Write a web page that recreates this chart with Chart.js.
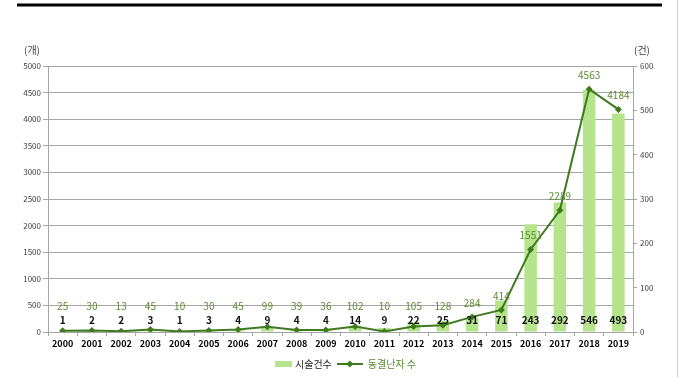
<!DOCTYPE html>
<html><head><meta charset="utf-8">
<script src="https://cdn.jsdelivr.net/npm/chart.js@4"></script>
<style>html,body{margin:0;padding:0;background:#fff;overflow:hidden}#wrap{position:relative;width:680px;height:377px}</style>
</head><body><div id="wrap"><canvas id="c" width="680" height="377"></canvas></div>
<script>
const years = ['2000','2001','2002','2003','2004','2005','2006','2007','2008','2009','2010','2011','2012','2013','2014','2015','2016','2017','2018','2019'];
// 시술건수 (bars, right axis, 건)
const procedures = [1,2,2,3,1,3,4,9,4,4,14,9,22,25,31,71,243,292,546,493];
// 동결난자 수 (line, left axis, 개)
const frozenEggs = [25,30,13,45,10,30,45,99,39,36,102,10,105,128,284,414,1551,2289,4563,4184];
const seriesNames = ['시술건수','동결난자 수'];
const leftUnit = '(개)';
const rightUnit = '(건)';
const leftMax = 5000, leftStep = 500;
const rightMax = 600, rightStep = 100;

const FAM = "'Noto Sans CJK KR','Noto Sans',sans-serif";
const BAR = '#b5e48c';
const LINE = '#3f7a1f';
const LBL_GREEN = '#5b8a33';
const AXIS = '#a6a6a6';

function barIcon(){const c=document.createElement('canvas');c.width=32;c.height=6;const x=c.getContext('2d');x.fillStyle=BAR;x.fillRect(14,0,17,6);return c;}
function lineIcon(){const c=document.createElement('canvas');c.width=26;c.height=8;const x=c.getContext('2d');x.strokeStyle=LINE;x.lineWidth=2;x.beginPath();x.moveTo(0,4);x.lineTo(26,4);x.stroke();x.fillStyle=LINE;x.beginPath();x.moveTo(13,0.5);x.lineTo(16.5,4);x.lineTo(13,7.5);x.lineTo(9.5,4);x.closePath();x.fill();return c;}

const decor = {
  id:'decor',
  beforeLayout(chart){
    const lg=chart.legend;
    if(lg && !lg._patched){const f=lg.fit;lg.fit=function(){f.call(this);this.height=23;};lg._patched=true;}
  },
  beforeDraw(chart){
    const ctx=chart.ctx, a=chart.chartArea;
    ctx.save();
    ctx.fillStyle='#fff';ctx.fillRect(0,0,chart.width,chart.height);
    ctx.strokeStyle='#000';ctx.lineWidth=3;ctx.beginPath();ctx.moveTo(17,5);ctx.lineTo(662,5);ctx.stroke();
    ctx.strokeStyle='#cfcfcf';ctx.lineWidth=1;ctx.beginPath();ctx.moveTo(677.5,0);ctx.lineTo(677.5,chart.height);ctx.stroke();
    ctx.fillStyle='#404040';ctx.font="10px "+FAM;ctx.textBaseline='middle';
    ctx.textAlign='left';ctx.fillText(leftUnit,24,a.top-16);
    ctx.fillText(rightUnit,634,a.top-16);
    ctx.restore();
  },
  afterDatasetsDraw(chart){
    const ctx=chart.ctx, a=chart.chartArea;
    const bm=chart.getDatasetMeta(0), lm=chart.getDatasetMeta(1);
    ctx.save();ctx.textAlign='center';ctx.textBaseline='middle';
    ctx.font="bold 10px "+FAM;ctx.fillStyle='#111';
    bm.data.forEach((el,i)=>ctx.fillText(String(procedures[i]),el.x,a.bottom-12));
    ctx.font="10px "+FAM;ctx.fillStyle=LBL_GREEN;
    lm.data.forEach((el,i)=>ctx.fillText(String(frozenEggs[i]),el.x,Math.min(el.y-14,a.bottom-26)));
    ctx.restore();
  }
};

new Chart(document.getElementById('c'),{
  data:{labels:years,datasets:[
    {type:'bar',label:seriesNames[0],data:procedures,yAxisID:'yR',backgroundColor:BAR,barPercentage:0.43,categoryPercentage:1,order:1},
    {type:'line',label:seriesNames[1],data:frozenEggs,yAxisID:'yL',borderColor:LINE,backgroundColor:LINE,borderWidth:2,pointStyle:'rectRot',pointRadius:3.5,pointBorderWidth:0,tension:0,order:0}
  ]},
  options:{
    responsive:false,animation:false,
    layout:{padding:{top:66,left:0,right:0,bottom:0}},
    plugins:{
      tooltip:{enabled:false},
      legend:{position:'bottom',labels:{
        usePointStyle:true,pointStyleWidth:26,padding:5,font:{size:10,family:FAM},
        generateLabels(){return [
          {text:seriesNames[0],pointStyle:barIcon(),fontColor:'#222',datasetIndex:0,hidden:false,lineWidth:0},
          {text:seriesNames[1],pointStyle:lineIcon(),fontColor:LBL_GREEN,datasetIndex:1,hidden:false,lineWidth:0}
        ];}
      }}
    },
    scales:{
      x:{offset:true,grid:{offset:true,drawOnChartArea:false,drawTicks:true,tickLength:4,color:AXIS},border:{color:AXIS},
        ticks:{font:{size:9,weight:'bold',family:FAM},color:'#000',padding:2,maxRotation:0,autoSkip:false},
        afterFit(s){s.height=22;}},
      yL:{position:'left',min:0,max:leftMax,grid:{color:AXIS,tickLength:5},border:{color:AXIS},
        ticks:{stepSize:leftStep,font:{size:8,family:FAM},color:'#404040',padding:2,callback:v=>String(v)},
        afterFit(s){s.width=48;}},
      yR:{position:'right',min:0,max:rightMax,grid:{drawOnChartArea:false,tickLength:4,color:AXIS},border:{color:AXIS},
        ticks:{stepSize:rightStep,font:{size:8,family:FAM},color:'#404040',padding:3,callback:v=>String(v)},
        afterFit(s){s.width=47;}}
    }
  },
  plugins:[decor]
});
</script></body></html>
